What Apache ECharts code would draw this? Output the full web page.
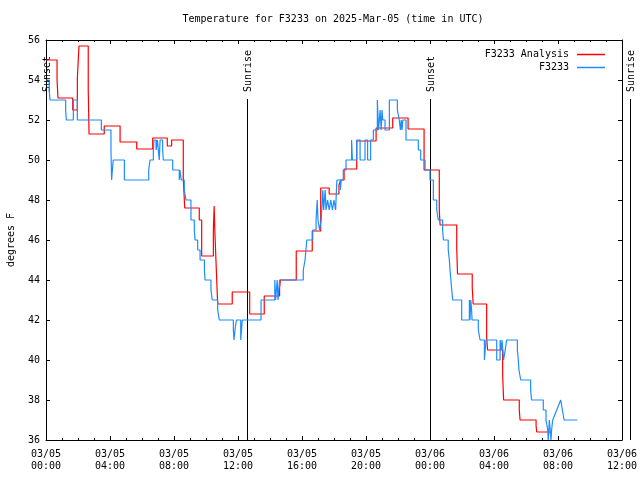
<!DOCTYPE html>
<html>
<head>
<meta charset="utf-8">
<script src="https://cdn.jsdelivr.net/npm/echarts@6/dist/echarts.min.js"></script>
<style>
html,body{margin:0;padding:0;background:#fff;}
#chart{width:640px;height:480px;}
</style>
</head>
<body>
<div id="chart"></div>
<script>
// Hours since 2025-03-05 00:00 UTC
const xTickLabels = ['03/05\n00:00','03/05\n04:00','03/05\n08:00','03/05\n12:00','03/05\n16:00','03/05\n20:00','03/06\n00:00','03/06\n04:00','03/06\n08:00','03/06\n12:00'];
const yTicks = [36, 38, 40, 42, 44, 46, 48, 50, 52, 54, 56];

const analysisT = [0, 0.69, 0.75, 1.67, 1.96, 2.06, 2.64, 2.69, 3.64, 4.63, 5.67, 6.67, 7.58, 7.85, 8.58, 8.67, 9.58, 9.73, 10.46, 10.51, 10.55, 10.67, 10.73, 11.64, 12.73, 13.64, 14.6, 14.65, 15.64, 16.64, 17.17, 17.7, 18.31, 18.42, 18.63, 19.42, 20.63, 21.67, 22.63, 23.63, 24.58, 24.63, 25.67, 25.72, 26.64, 26.7, 27.54, 27.6, 28.54, 28.6, 29.58, 29.63, 30.63, 30.67, 31.56];
const analysisV = [55.0, 54.0, 53.1, 52.5, 54.1, 55.7, 53.5, 51.3, 51.7, 50.9, 50.55, 51.1, 50.7, 51.0, 49.1, 47.6, 47.0, 45.2, 46.5, 47.7, 46.5, 44.0, 42.8, 43.4, 42.3, 43.2, 43.6, 44.0, 45.45, 46.45, 48.6, 48.3, 48.75, 49.0, 49.55, 50.95, 51.6, 52.1, 51.55, 49.5, 47.5, 46.75, 45.6, 44.3, 43.6, 42.8, 41.1, 40.5, 39.3, 38.0, 37.5, 37.0, 36.7, 36.4, 36.4];

const obsT = [0, 0.2, 0.25, 1.23, 1.27, 1.71, 1.96, 3.46, 4.06, 4.1, 4.15, 4.2, 4.9, 6.42, 6.5, 6.71, 6.75, 6.88, 6.96, 7.08, 7.13, 7.29, 7.33, 7.92, 8.33, 8.37, 8.45, 8.64, 8.75, 9.06, 9.27, 9.31, 9.48, 9.63, 9.9, 9.94, 10.31, 10.39, 10.73, 10.83, 11.71, 11.75, 11.81, 11.9, 12.17, 12.27, 13.44, 14.3, 14.35, 14.45, 14.5, 14.6, 16.08, 16.19, 16.3, 16.67, 16.88, 16.95, 17.0, 17.1, 17.2, 17.3, 17.35, 17.45, 17.5, 17.6, 17.7, 17.8, 17.9, 18.0, 18.1, 18.18, 18.4, 18.45, 18.58, 18.75, 19.1, 19.15, 19.42, 19.63, 19.94, 20.1, 20.29, 20.46, 20.71, 20.78, 20.88, 20.95, 21.0, 21.05, 21.19, 21.46, 21.96, 22.08, 22.15, 22.2, 22.25, 22.3, 22.5, 23.27, 23.42, 23.69, 24.0, 24.21, 24.42, 24.52, 24.79, 24.84, 25.14, 25.21, 25.25, 25.36, 25.42, 25.98, 26.46, 26.5, 26.55, 26.6, 26.63, 27.02, 27.13, 27.4, 27.45, 27.5, 28.17, 28.38, 28.45, 28.5, 28.6, 28.7, 28.79, 29.46, 29.52, 29.56, 29.67, 30.29, 30.35, 31.08, 31.25, 31.36, 31.39, 31.46, 31.56, 31.6, 31.67];
const obsV = [54.0, 53.5, 53.0, 52.5, 52.0, 53.0, 52.0, 51.5, 50.5, 49.0, 49.5, 50.0, 49.0, 49.5, 50.0, 50.5, 51.0, 50.5, 51.0, 50.0, 51.0, 50.5, 50.0, 49.5, 49.0, 49.5, 49.0, 48.5, 48.0, 47.0, 46.5, 46.0, 45.5, 45.0, 44.5, 44.0, 43.5, 43.0, 42.5, 42.0, 41.5, 41.0, 41.5, 42.0, 41.0, 42.0, 43.0, 44.0, 43.0, 44.0, 43.0, 44.0, 44.5, 45.0, 46.0, 46.5, 47.0, 48.0, 47.0, 46.5, 47.0, 48.5, 47.5, 48.5, 47.5, 48.0, 47.5, 48.0, 47.5, 48.0, 47.5, 49.0, 48.5, 49.0, 49.5, 50.0, 51.0, 50.0, 51.0, 50.0, 51.0, 50.0, 51.0, 51.5, 53.0, 51.5, 52.5, 51.5, 52.5, 52.0, 51.5, 53.0, 52.5, 52.0, 51.5, 52.0, 51.5, 52.0, 51.0, 50.5, 50.0, 49.5, 49.0, 48.0, 47.5, 47.0, 46.5, 46.0, 45.5, 45.0, 44.5, 43.5, 43.0, 42.0, 43.0, 42.0, 43.0, 42.5, 42.0, 41.5, 41.0, 40.0, 40.5, 41.0, 40.0, 41.0, 40.5, 41.0, 40.0, 40.5, 41.0, 40.5, 40.0, 39.5, 39.0, 38.5, 38.0, 37.5, 37.0, 36.5, 36.0, 37.0, 36.0, 36.5, 37.0];
// last stretch of observations (sparser samples, drawn point to point)
const obsTailT = [31.67, 32.17, 32.38, 33.21];
const obsTailV = [37.0, 38.0, 37.0, 37.0];

const sunT = [0.0, 12.55, 24.0, 36.52];
const sunLabel = ['Sunset', 'Sunrise', 'Sunset', 'Sunrise'];

const FONT = 'DejaVu Sans Mono';
const zip = (a, b) => a.map((t, i) => [t, b[i]]);

const chart = echarts.init(document.getElementById('chart'), null, {renderer: 'canvas'});
const axisCommon = {
  min: 0, max: 36, interval: 4, type: 'value',
  axisLine: {show: true, onZero: false, lineStyle: {color: '#000', width: 1}},
  axisTick: {show: true, inside: true, length: 4, lineStyle: {color: '#000'}},
  minorTick: {show: true, splitNumber: 4, length: 2, lineStyle: {color: '#000'}},
  splitLine: {show: false}
};
const yCommon = {
  type: 'value', min: 36, max: 56, interval: 2,
  axisLine: {show: true, onZero: false, lineStyle: {color: '#000', width: 1}},
  axisTick: {show: true, inside: true, length: 4, lineStyle: {color: '#000'}},
  splitLine: {show: false}
};
const option = {
  animation: false,
  backgroundColor: '#fff',
  title: {
    text: 'Temperature for F3233 on 2025-Mar-05 (time in UTC)',
    left: 333, top: 13, textAlign: 'center', padding: 0,
    textStyle: {fontFamily: FONT, fontSize: 10, fontWeight: 'normal', color: '#000', lineHeight: 12}
  },
  legend: {
    data: ['F3233 Analysis', 'F3233'],
    orient: 'vertical', align: 'right', right: 30, top: 43,
    itemGap: 0, itemWidth: 28, itemHeight: 1.5, icon: 'rect',
    textStyle: {fontFamily: FONT, fontSize: 10, color: '#000', lineHeight: 13, padding: [0, 3, 0, 0]}
  },
  grid: {left: 46, right: 18, top: 40, bottom: 40, containLabel: false, outerBoundsMode: 'none'},
  xAxis: [
    Object.assign({}, axisCommon, {
      position: 'bottom',
      axisLabel: {
        show: true, margin: 8, color: '#000', fontFamily: FONT, fontSize: 10, lineHeight: 12.5,
        formatter: v => xTickLabels[Math.round(v / 4)]
      }
    }),
    Object.assign({}, axisCommon, {position: 'top', axisLabel: {show: false}})
  ],
  yAxis: [
    Object.assign({}, yCommon, {
      position: 'left',
      name: 'degrees F', nameLocation: 'middle', nameRotate: 90, nameGap: 30,
      nameTextStyle: {fontFamily: FONT, fontSize: 10, color: '#000'},
      axisLabel: {show: true, margin: 6, color: '#000', fontFamily: FONT, fontSize: 10,
        formatter: v => (yTicks.indexOf(v) >= 0 ? String(v) : '')}
    }),
    Object.assign({}, yCommon, {position: 'right', axisLabel: {show: false}})
  ],
  series: [
    {
      name: 'sun', type: 'custom', coordinateSystem: 'cartesian2d', clip: false,
      xAxisIndex: 0, yAxisIndex: 0, silent: true,
      data: sunT.map((t, i) => [t, i]),
      encode: {x: 0},
      renderItem: function (params, api) {
        const t = api.value(0);
        const idx = api.value(1);
        const topPt = api.coord([t, 56]);
        const botPt = api.coord([t, 36]);
        const x = Math.round(topPt[0]) + 0.5;
        return {
          type: 'group',
          children: [
            {type: 'line', shape: {x1: x, y1: topPt[1] + 59, x2: x, y2: botPt[1]},
             style: {stroke: '#000', lineWidth: 1}},
            {type: 'text', x: x + 1, y: topPt[1] + 52, rotation: Math.PI / 2,
             style: {text: sunLabel[idx], fill: '#000', font: '10px "' + FONT + '"', align: 'left', verticalAlign: 'middle'}}
          ]
        };
      }
    },
    {
      name: 'F3233 Analysis', type: 'line', step: 'end', showSymbol: false, symbol: 'none',
      data: zip(analysisT, analysisV),
      lineStyle: {color: '#ff0000', width: 1.2}, itemStyle: {color: '#ff0000'}, z: 3
    },
    {
      name: 'F3233', type: 'line', step: 'end', showSymbol: false, symbol: 'none',
      data: zip(obsT, obsV),
      lineStyle: {color: '#1e8cff', width: 1.2}, itemStyle: {color: '#1e8cff'}, z: 4
    },
    {
      name: 'F3233', type: 'line', showSymbol: false, symbol: 'none',
      data: zip(obsTailT, obsTailV),
      lineStyle: {color: '#1e8cff', width: 1.2}, itemStyle: {color: '#1e8cff'}, z: 4
    }
  ]
};
chart.setOption(option);
</script>
</body>
</html>
